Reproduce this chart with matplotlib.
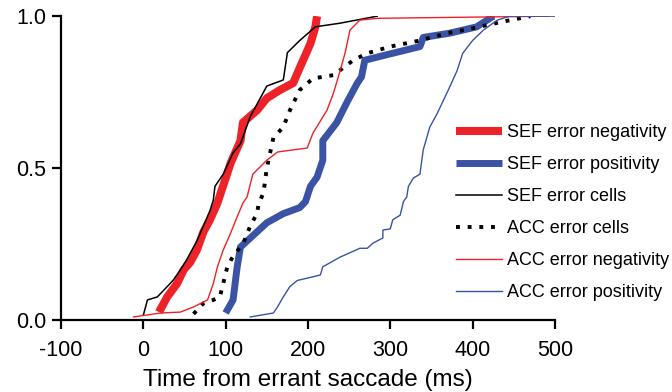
import matplotlib
matplotlib.use('Agg')
import matplotlib.pyplot as plt

plt.rcParams['font.family'] = ['Liberation Sans', 'DejaVu Sans']
plt.rcParams['axes.unicode_minus'] = False

# cumulative onset distributions (time in ms, fraction)
sef_neg_t = [19, 29, 41, 49, 57, 65, 73, 81, 90, 106, 118, 121, 138, 150, 166, 182, 190, 203, 209, 211]
sef_neg_y = [0.026, 0.076, 0.12, 0.165, 0.19, 0.23, 0.29, 0.33, 0.385, 0.516, 0.59, 0.65, 0.69, 0.73, 0.757, 0.78, 0.83, 0.91, 0.965, 1.0]

sef_pos_t = [100, 109, 114, 118, 130, 150, 170, 190, 197, 203, 211, 218, 218, 235, 248, 260, 265, 269, 291, 336, 340, 372, 405, 425, 427]
sef_pos_y = [0.023, 0.066, 0.175, 0.24, 0.27, 0.32, 0.35, 0.37, 0.39, 0.44, 0.47, 0.526, 0.59, 0.65, 0.72, 0.78, 0.80, 0.855, 0.87, 0.90, 0.93, 0.944, 0.965, 1.0, 1.0]

sef_cells_t = [0, 5, 17, 29, 36, 45, 53, 65, 73, 81, 85, 87, 97, 109, 118, 130, 150, 170, 175, 190, 209, 239, 284]
sef_cells_y = [0.016, 0.066, 0.076, 0.11, 0.13, 0.165, 0.2, 0.26, 0.31, 0.36, 0.395, 0.44, 0.48, 0.55, 0.58, 0.67, 0.77, 0.79, 0.88, 0.92, 0.965, 0.977, 1.0]

acc_cells_t = [61, 73, 85, 93, 97, 102, 109, 121, 130, 138, 140, 146, 150, 158, 170, 178, 190, 206, 231, 255, 272, 300, 336, 369, 400, 433, 470]
acc_cells_y = [0.02, 0.055, 0.066, 0.076, 0.12, 0.175, 0.21, 0.25, 0.31, 0.35, 0.38, 0.42, 0.5, 0.6, 0.635, 0.69, 0.757, 0.795, 0.806, 0.855, 0.878, 0.9, 0.92, 0.944, 0.96, 0.98, 1.0]

acc_neg_t = [-12, 21, 45, 61, 78, 85, 90, 97, 106, 114, 121, 126, 133, 150, 163, 199, 206, 223, 231, 239, 245, 251, 263, 284, 492]
acc_neg_y = [0.01, 0.023, 0.026, 0.043, 0.066, 0.12, 0.175, 0.23, 0.286, 0.34, 0.385, 0.405, 0.48, 0.526, 0.553, 0.566, 0.615, 0.69, 0.747, 0.82, 0.878, 0.954, 0.987, 0.993, 1.0]

acc_pos_t = [130, 158, 163, 170, 178, 187, 215, 218, 239, 263, 272, 279, 291, 291, 300, 303, 312, 316, 320, 322, 328, 336, 340, 348, 357, 364, 372, 381, 388, 400, 413, 430, 445, 500]
acc_pos_y = [0.01, 0.023, 0.043, 0.076, 0.11, 0.13, 0.148, 0.175, 0.207, 0.236, 0.236, 0.253, 0.27, 0.296, 0.30, 0.33, 0.345, 0.39, 0.405, 0.44, 0.467, 0.48, 0.56, 0.635, 0.68, 0.72, 0.766, 0.82, 0.878, 0.92, 0.954, 0.987, 1.0, 1.0]

red = '#ee2229'
blue = '#3a53a4'

fig = plt.figure(figsize=(6.72, 3.92), dpi=100)
ax = fig.add_axes([0.0908, 0.1837, 0.735, 0.775])

ax.plot(sef_neg_t, sef_neg_y, color=red, lw=5.8, solid_capstyle='butt', label='SEF error negativity')
ax.plot(sef_pos_t, sef_pos_y, color=blue, lw=5.0, solid_capstyle='butt', label='SEF error positivity')
ax.plot(sef_cells_t, sef_cells_y, color='black', lw=1.1, label='SEF error cells')
ax.plot(acc_cells_t, acc_cells_y, color='black', lw=2.8, linestyle=(0, (1, 2.0)), label='ACC error cells')
ax.plot(acc_neg_t, acc_neg_y, color=red, lw=1.0, label='ACC error negativity')
ax.plot(acc_pos_t, acc_pos_y, color=blue, lw=1.0, label='ACC error positivity')

ax.set_xlim(-100, 500)
ax.set_ylim(0, 1)
ax.set_xticks([-100, 0, 100, 200, 300, 400, 500])
ax.set_yticks([0, 0.5, 1.0])
ax.set_yticklabels(['0.0', '0.5', '1.0'])
ax.tick_params(direction='out', length=6.5, width=1.6, labelsize=15.5, pad=4)
ax.tick_params(axis='x', pad=8)
for s in ['top', 'right']:
    ax.spines[s].set_visible(False)
for s in ['left', 'bottom']:
    ax.spines[s].set_linewidth(1.6)
ax.set_xlabel('Time from errant saccade (ms)', fontsize=17.5, labelpad=6)

leg = ax.legend(loc='upper left', bbox_to_anchor=(0.80, 0.645), frameon=False,
                fontsize=13, handlelength=2.55, handletextpad=0.28, labelspacing=0.83,
                borderaxespad=0, borderpad=0)

plt.savefig('out.png', dpi=100)
